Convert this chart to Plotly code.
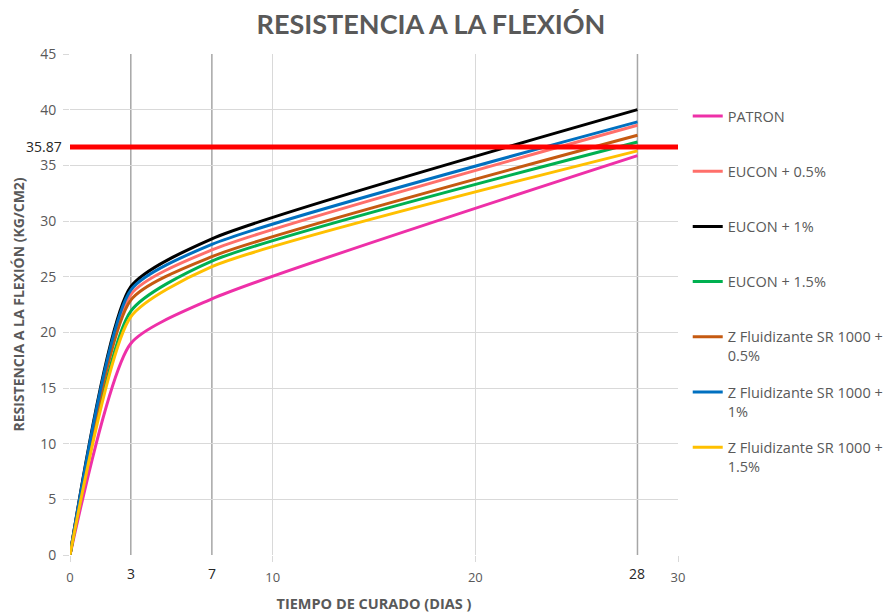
import plotly.graph_objects as go

# ---- data ----
dias = [0, 3, 7, 28]
series_names = [
    "PATRON<br> ",
    "EUCON + 0.5%<br> ",
    "EUCON + 1%<br> ",
    "EUCON + 1.5%<br> ",
    "Z Fluidizante SR 1000 +<br>0.5%",
    "Z Fluidizante SR 1000 +<br>1%",
    "Z Fluidizante SR 1000 +<br>1.5%",
]
patron = [0, 19.0, 23.0, 35.87]
eucon_05 = [0, 23.4, 27.4, 38.6]
eucon_1 = [0, 24.1, 28.4, 40.0]
eucon_15 = [0, 21.9, 26.4, 37.1]
z_05 = [0, 22.9, 26.8, 37.7]
z_1 = [0, 23.8, 27.9, 38.9]
z_15 = [0, 21.4, 25.9, 36.3]
series_values = [patron, eucon_05, eucon_1, eucon_15, z_05, z_1, z_15]
colors = ["#EE30A8", "#FF6F6A", "#000000", "#00B050", "#C55A11", "#0070C0", "#FFC000"]

ref_line_y = 36.65          # drawn position of the reference line
ref_label = "35.87"         # label shown on it
marked_days = [3, 7, 28]
x_ticks = [0, 10, 20, 30]
y_ticks = list(range(0, 50, 5))

GRAY = "#595959"
FONT = "Open Sans"
fig = go.Figure()

for name, vals, col in zip(series_names, series_values, colors):
    fig.add_trace(go.Scatter(
        x=dias, y=vals, name=name, mode="lines",
        line=dict(color=col, width=3, shape="spline", smoothing=0.6),
        legendgroup=name,
    ))

# vertical marker lines at sampled days
for d in marked_days:
    fig.add_shape(type="line", xref="x", yref="y", x0=d, x1=d, y0=0, y1=45,
                  line=dict(color="#a6a6a6", width=1.5), layer="below")
    fig.add_annotation(x=d, y=0, xref="x", yref="y", text=str(d), showarrow=False,
                       yshift=-18, font=dict(family=FONT, size=14, color="#262626"))

# reference line
fig.add_shape(type="line", xref="x", yref="y", x0=0, x1=30, y0=ref_line_y, y1=ref_line_y,
              line=dict(color="#FF0000", width=5))
fig.add_annotation(x=0, y=ref_line_y, xref="x", yref="y", text=ref_label, showarrow=False,
                   xanchor="right", xshift=-6, font=dict(family=FONT, size=14, color="#262626"))

fig.update_layout(
    width=893, height=616,
    margin=dict(l=62, r=223, t=46, b=69),
    paper_bgcolor="white", plot_bgcolor="white",
    title=dict(text="<b>RESISTENCIA A LA FLEXIÓN</b>", x=423 / 893, xanchor="center",
               y=1 - 17 / 616, yanchor="middle",
               font=dict(family="Lato", size=27, color=GRAY)),
    font=dict(family=FONT, color=GRAY, size=13),
    xaxis=dict(range=[0, 30], tickvals=x_ticks, showgrid=True, gridcolor="#d9d9d9", gridwidth=1,
               zeroline=False, showline=False, ticks="outside", ticklen=6, tickcolor="#d9d9d9",
               tickfont=dict(size=13, color=GRAY), ticklabelstandoff=4, automargin=False,
               title=dict(text="<b>TIEMPO DE CURADO (DIAS )</b>", font=dict(size=14.5, color=GRAY), standoff=14)),
    yaxis=dict(range=[0, 45], tickvals=y_ticks, showgrid=True, gridcolor="#d9d9d9", gridwidth=1,
               zeroline=False, showline=False, ticks="outside", ticklen=6, tickcolor="#d9d9d9",
               tickfont=dict(size=14, color=GRAY), ticklabelstandoff=4, automargin=False,
               title=dict(text="<b>RESISTENCIA A LA FLEXIÓN (KG/CM2)</b>", font=dict(size=14, color=GRAY), standoff=12)),
    legend=dict(x=1.016, y=0.908, xanchor="left", yanchor="top", tracegroupgap=14.5, valign="top",
                font=dict(size=14.5, color=GRAY), itemwidth=30, traceorder="grouped"),
)

fig.write_html("out.html")
